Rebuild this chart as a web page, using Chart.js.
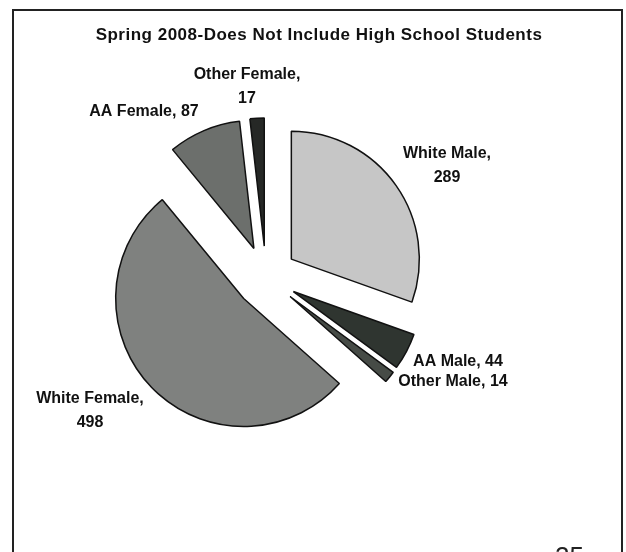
<!DOCTYPE html>
<html>
<head>
<meta charset="utf-8">
<title>Spring 2008 enrollment</title>
<script src="https://cdn.jsdelivr.net/npm/chart.js@4.4.1/dist/chart.umd.min.js"></script>
<style>
  html, body { margin: 0; padding: 0; background: #fff; }
  #page { position: relative; width: 626px; height: 552px; overflow: hidden; }
  #frame { position: absolute; left: 12px; top: 9px; width: 611px; height: 620px;
           border: 2px solid #222; box-sizing: border-box; }
  #title { position: absolute; left: 0; top: 25px; width: 638px; text-align: center;
           font: bold 17px "Liberation Sans", Arial, sans-serif; line-height: 20px;
           letter-spacing: 0.5px; color: #111; }
  #pageno { position: absolute; left: 555px; top: 543px;
            font: 26px "Liberation Sans", Arial, sans-serif; line-height: 26px; color: #222; }
  #c { position: absolute; left: 0; top: 0; }
</style>
</head>
<body>
<div id="page">
  <div id="frame"></div>
  <canvas id="c" width="626" height="552"></canvas>
  <div id="title">Spring 2008-Does Not Include High School Students</div>
  <div id="pageno">25</div>
</div>
<script>
let categories = ['White Male', 'AA Male', 'Other Male', 'White Female', 'AA Female', 'Other Female'];
let students = [289, 44, 14, 498, 87, 17];
let sliceColors = ['#c6c6c6', '#2f3530', '#464b46', '#7f817f', '#6c6f6c', '#262826'];

// label placement: first line centre, measured from the pie centre
let labelOffsets = [[181, -123], [192, 85], [187, 105], [-176, 122], [-122, -165], [-19, -202]];
let twoLine = [true, false, false, true, false, true];

const EXPLODE = 31;

// pull every slice out along its middle angle
const explodePlugin = {
  id: 'explode',
  beforeDatasetDraw(chart, args) {
    const ctx = chart.ctx;
    args.meta.data.forEach(arc => {
      const mid = (arc.startAngle + arc.endAngle) / 2;
      ctx.save();
      ctx.translate(Math.cos(mid) * EXPLODE, Math.sin(mid) * EXPLODE);
      arc.draw(ctx);
      ctx.restore();
    });
    return false;
  }
};

const labelPlugin = {
  id: 'sliceLabels',
  afterDraw(chart) {
    const ctx = chart.ctx;
    const first = chart.getDatasetMeta(0).data[0];
    const cx = first.x, cy = first.y;
    ctx.save();
    ctx.font = 'bold 16px "Liberation Sans", Arial, sans-serif';
    ctx.fillStyle = '#111';
    ctx.textAlign = 'center';
    ctx.textBaseline = 'middle';
    categories.forEach((name, i) => {
      const [dx, dy] = labelOffsets[i];
      const lines = twoLine[i] ? [name + ',', String(students[i])] : [name + ', ' + students[i]];
      lines.forEach((t, k) => ctx.fillText(t, cx + dx, cy + dy + k * 24));
    });
    ctx.restore();
  }
};

let pie = new Chart(document.getElementById('c'), {
  type: 'pie',
  data: {
    labels: categories,
    datasets: [{
      data: students,
      backgroundColor: sliceColors,
      borderColor: '#111',
      borderWidth: 1.5
    }]
  },
  options: {
    responsive: false,
    animation: false,
    events: [],
    radius: 128,
    layout: { padding: { left: 0, right: 94, top: 2, bottom: 0 } },
    plugins: {
      legend: { display: false },
      tooltip: { enabled: false },
      title: { display: false }
    }
  },
  plugins: [explodePlugin, labelPlugin]
});
</script>
</body>
</html>
